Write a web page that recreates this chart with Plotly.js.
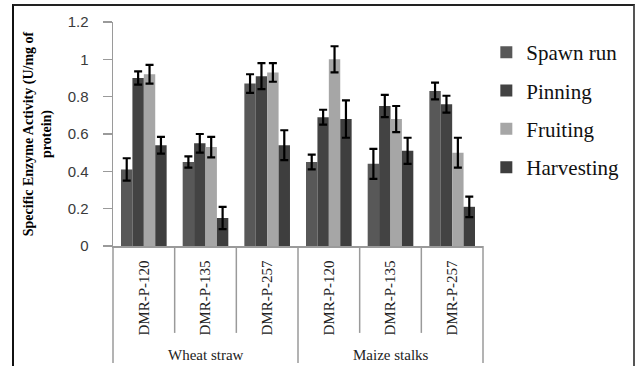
<!DOCTYPE html>
<html>
<head>
<meta charset="utf-8">
<script src="https://cdn.plot.ly/plotly-3.0.1.min.js"></script>
<style>
  html, body { margin: 0; padding: 0; background: #fff; }
  #wrap { position: relative; width: 636px; height: 366px; overflow: hidden; }
  #chart { width: 636px; height: 366px; }
  #frame { position: absolute; left: 12px; top: 4px; width: 619px; height: 400px;
           border-left: 2px solid #111; border-top: 2px solid #222; border-right: 2px solid #555;
           pointer-events: none; }
</style>
</head>
<body>
<div id="wrap"><div id="chart"></div><div id="frame"></div></div>
<script>
// ---- data ----
const substrates = ['Wheat straw', 'Wheat straw', 'Wheat straw', 'Maize stalks', 'Maize stalks', 'Maize stalks'];
const strains = ['DMR-P-120', 'DMR-P-135', 'DMR-P-257', 'DMR-P-120', 'DMR-P-135', 'DMR-P-257'];
const seriesNames = ['Spawn run', 'Pinning', 'Fruiting', 'Harvesting'];
const spawnRun = [0.41, 0.45, 0.87, 0.45, 0.44, 0.83];
const spawnRunErr = [0.06, 0.03, 0.05, 0.04, 0.08, 0.045];
const pinning = [0.90, 0.55, 0.91, 0.69, 0.75, 0.76];
const pinningErr = [0.035, 0.05, 0.07, 0.04, 0.06, 0.045];
const fruiting = [0.92, 0.53, 0.93, 1.00, 0.68, 0.50];
const fruitingErr = [0.05, 0.055, 0.05, 0.07, 0.07, 0.08];
const harvesting = [0.54, 0.15, 0.54, 0.68, 0.51, 0.21];
const harvestingErr = [0.045, 0.06, 0.08, 0.10, 0.07, 0.055];

// ---- build ----
const keys = substrates.map((s, i) => s + ' | ' + strains[i]);
const values = [spawnRun, pinning, fruiting, harvesting];
const errors = [spawnRunErr, pinningErr, fruitingErr, harvestingErr];
const colors = ['#585858', '#434343', '#a6a6a6', '#3e3e3e'];

const traces = seriesNames.map((name, k) => ({
  type: 'bar',
  name: name,
  legendgroup: 'g' + k,
  x: keys,
  y: values[k],
  marker: { color: colors[k] },
  error_y: { type: 'data', array: errors[k], visible: true, color: '#000', thickness: 2.2, width: 4 }
}));

const serif = 'Liberation Serif, Times New Roman, serif';
const n = keys.length;
const shortLen = -0.388, longLen = -0.522;
const shapes = [];
for (let k = 0; k <= n; k++) {
  const isGroupEdge = (k === 0 || k === n || substrates[k] !== substrates[k - 1]);
  shapes.push({
    type: 'line', xref: 'paper', yref: 'paper',
    x0: k / n, x1: k / n, y0: 0, y1: isGroupEdge ? longLen : shortLen,
    line: { color: '#9a9a9a', width: 1.5 }
  });
}
const groupNames = [...new Set(substrates)];
const annotations = groupNames.map(g => {
  const idx = substrates.map((s, i) => s === g ? i : -1).filter(i => i >= 0);
  const center = (idx[0] + idx[idx.length - 1] + 1) / 2 / n;
  return {
    text: g, xref: 'paper', yref: 'paper', x: center, y: -0.487,
    xanchor: 'center', yanchor: 'middle', showarrow: false,
    font: { family: serif, size: 15, color: '#222' }
  };
});

const layout = {
  width: 636, height: 366,
  margin: { l: 113, r: 149, t: 22, b: 120, pad: 0 },
  paper_bgcolor: '#fff', plot_bgcolor: '#fff',
  barmode: 'group', bargap: 0.26, bargroupgap: 0,
  showlegend: true,
  legend: {
    x: 1.009, y: 0.955, xanchor: 'left', yanchor: 'top',
    font: { family: serif, size: 21, color: '#111' },
    tracegroupgap: 8, traceorder: 'grouped', bgcolor: 'rgba(0,0,0,0)'
  },
  xaxis: {
    type: 'category', tickvals: keys, ticktext: strains, tickangle: -90,
    ticks: '', ticklabelstandoff: 7,
    tickfont: { family: serif, size: 15, color: '#222' },
    showline: true, linecolor: '#9a9a9a', linewidth: 1.5, showgrid: false, zeroline: false
  },
  yaxis: {
    range: [0, 1.2], dtick: 0.2, tick0: 0,
    ticks: 'outside', ticklen: 9, tickcolor: '#9a9a9a', tickwidth: 1.5,
    ticklabelstandoff: 11,
    tickfont: { family: 'Liberation Sans, Arial, sans-serif', size: 15, color: '#3a3a3a' },
    showline: true, linecolor: '#9a9a9a', linewidth: 1.5, showgrid: false, zeroline: false,
    title: { text: '<b>Specific Enzyme Activity (U/mg of<br>protein)</b>',
             font: { family: serif, size: 14, color: '#000' }, standoff: 12 }
  },
  shapes: shapes,
  annotations: annotations
};

Plotly.newPlot('chart', traces, layout, { displayModeBar: false, staticPlot: true });
</script>
</body>
</html>
